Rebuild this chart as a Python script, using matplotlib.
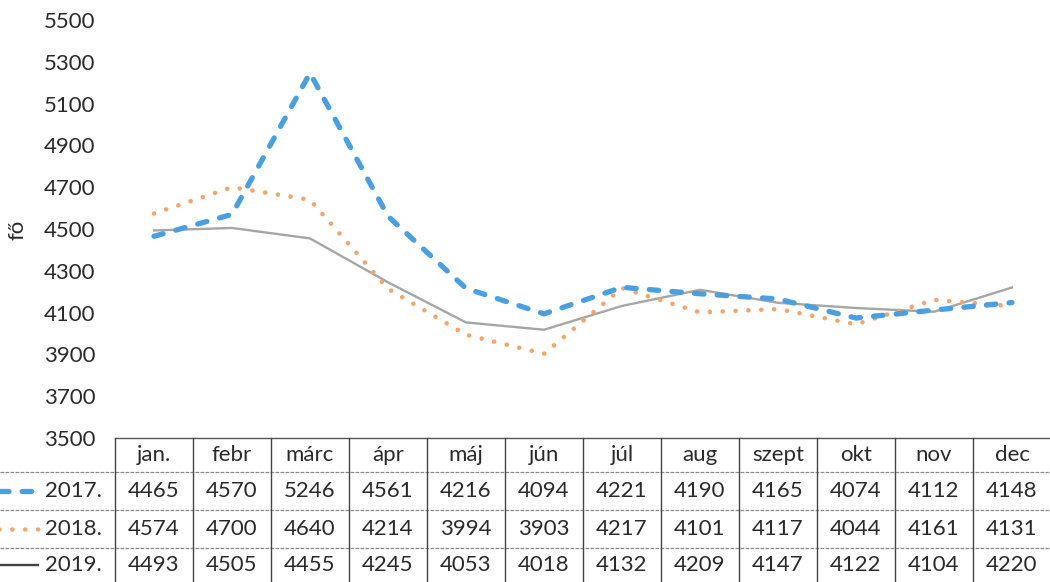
import matplotlib
matplotlib.use("Agg")
import matplotlib.pyplot as plt
import matplotlib.transforms as mtrans
from matplotlib.lines import Line2D

months = ["jan.", "febr", "márc", "ápr", "máj", "jún", "júl", "aug", "szept", "okt", "nov", "dec"]
years = ["2017.", "2018.", "2019."]
v2017 = [4465, 4570, 5246, 4561, 4216, 4094, 4221, 4190, 4165, 4074, 4112, 4148]
v2018 = [4574, 4700, 4640, 4214, 3994, 3903, 4217, 4101, 4117, 4044, 4161, 4131]
v2019 = [4493, 4505, 4455, 4245, 4053, 4018, 4132, 4209, 4147, 4122, 4104, 4220]
yticks = list(range(3500, 5501, 200))

series = [v2017, v2018, v2019]
colors = ["#4A9FE0", "#F5A46A", "#A6A6A6"]
key_colors = ["#4A9FE0", "#F5A46A", "#444444"]

plt.rcParams['font.family'] = ['Lato', 'DejaVu Sans']
txtc = "#2a2a2a"
fs = 16

W, H = 1050, 582
fig = plt.figure(figsize=(W / 100, H / 100), dpi=100)

def fy(py):
    return 1 - py / H

def fx(px):
    return px / W

ax = fig.add_axes([fx(115), fy(438), fx(1051) - fx(115), fy(20) - fy(438)])
x = list(range(len(months)))

ax.plot(x, v2019, color=colors[2], lw=1.7, solid_joinstyle='round')
l18, = ax.plot(x, v2018, color=colors[1], lw=3.3, dash_capstyle='round')
l18.set_dashes([0.01, 2.8])
l17, = ax.plot(x, v2017, color=colors[0], lw=3.8, dash_capstyle='round')
l17.set_dashes([1.8, 2.5])

ax.set_xlim(-0.5, 11.5)
ax.set_ylim(3500, 5500)
ax.set_yticks(yticks)
ax.set_xticks([])
for s in ax.spines.values():
    s.set_visible(False)
ax.tick_params(axis='y', length=0, labelsize=fs, labelcolor=txtc, pad=14)
fig.text(fx(17), fy(230), "fő", rotation=90, ha='center', va='center', fontsize=fs, color=txtc)

# Table
blend = mtrans.blended_transform_factory(ax.transData, fig.transFigure)
row_tops = [438, 472, 510, 548, 582]
row_centers = [(row_tops[i] + row_tops[i + 1]) / 2 for i in range(4)]

fig.add_artist(Line2D([fx(115), fx(1050)], [fy(438), fy(438)], transform=fig.transFigure, color="#555555", lw=1.0))
for py in row_tops[1:4]:
    fig.add_artist(Line2D([0, 1], [fy(py), fy(py)], transform=fig.transFigure, color="#8a8a8a", lw=0.9, ls=(0, (3, 1))))
for b in [i - 0.5 for i in range(len(months) + 1)]:
    fig.add_artist(Line2D([b, b], [fy(438), fy(582)], transform=blend, color="#444444", lw=1.0))

for i, m in enumerate(months):
    fig.text(i, fy(row_centers[0]), m, transform=blend, ha='center', va='center', fontsize=fs, color=txtc)
for r, (vals, yr) in enumerate(zip(series, years)):
    cy = fy(row_centers[r + 1])
    for i, v in enumerate(vals):
        fig.text(i, cy, str(v), transform=blend, ha='center', va='center', fontsize=fs, color=txtc)
    fig.text(fx(45), cy, yr, ha='left', va='center', fontsize=fs, color=txtc)
    if r == 0:
        ln = Line2D([fx(-5), fx(38)], [cy, cy], transform=fig.transFigure, color=key_colors[0], lw=3.8, dash_capstyle='round')
        ln.set_dashes([1.8, 2.5])
    elif r == 1:
        ln = Line2D([fx(-2), fx(38)], [cy, cy], transform=fig.transFigure, color=key_colors[1], lw=3.3, dash_capstyle='round')
        ln.set_dashes([0.01, 2.8])
    else:
        ln = Line2D([fx(0), fx(38)], [cy, cy], transform=fig.transFigure, color=key_colors[2], lw=1.7)
    fig.add_artist(ln)

fig.savefig("out.png", dpi=100)
